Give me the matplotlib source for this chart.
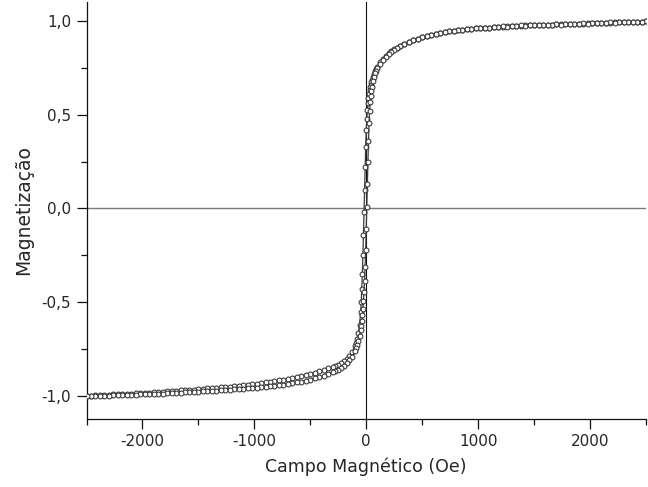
import matplotlib
matplotlib.use("Agg")
import matplotlib.pyplot as plt
from matplotlib.ticker import FixedLocator

# Applied field (Oe)
field = [
    2500, 2460, 2420, 2380, 2340, 2300, 2260, 2220, 2180, 2140, 2100, 2060, 2020, 1980,
    1940, 1900, 1860, 1820, 1780, 1740, 1700, 1660, 1620, 1580, 1540, 1500, 1460, 1420,
    1380, 1340, 1300, 1260, 1220, 1180, 1140, 1100, 1060, 1020, 980, 940, 900, 860,
    820, 780, 740, 700, 660, 620, 580, 540, 500, 460, 420, 380, 340, 300,
    275, 250, 225, 200, 175, 150, 125, 100,
    90, 80, 70, 60,
    50, 45, 40, 35, 30, 25, 20, 15, 10, 5, 0, -5, -10, -15, -20, -25, -30, -35, -40, -45, -50,
    -60, -70, -80, -90,
    -100, -125, -150, -175, -200, -225, -250, -275,
    -300, -340, -380, -420, -460, -500, -540, -580, -620, -660, -700, -740, -780, -820,
    -860, -900, -940, -980, -1020, -1060, -1100, -1140, -1180, -1220, -1260, -1300, -1340, -1380,
    -1420, -1460, -1500, -1540, -1580, -1620, -1660, -1700, -1740, -1780, -1820, -1860, -1900, -1940,
    -1980, -2020, -2060, -2100, -2140, -2180, -2220, -2260, -2300, -2340, -2380, -2420, -2460, -2500,
]

# Normalised magnetisation, descending branch
m_desc = [
    0.997, 0.996, 0.995, 0.994, 0.994, 0.993, 0.992, 0.991, 0.990, 0.990, 0.989, 0.988, 0.987, 0.986,
    0.985, 0.984, 0.984, 0.983, 0.982, 0.981, 0.981, 0.980, 0.979, 0.979, 0.978, 0.977, 0.976, 0.975,
    0.974, 0.972, 0.971, 0.970, 0.969, 0.967, 0.966, 0.964, 0.963, 0.961, 0.959, 0.956, 0.954, 0.951,
    0.949, 0.946, 0.943, 0.939, 0.935, 0.930, 0.925, 0.919, 0.912, 0.905, 0.897, 0.887, 0.876, 0.865,
    0.857, 0.848, 0.838, 0.826, 0.812, 0.796, 0.778, 0.755,
    0.744, 0.732, 0.718, 0.702,
    0.683, 0.672, 0.660, 0.646, 0.630, 0.612, 0.590, 0.562, 0.525, 0.478, 0.420, 0.330, 0.220,
    0.100, -0.020, -0.140, -0.250, -0.350, -0.430, -0.500, -0.550,
    -0.620, -0.663, -0.693, -0.716,
    -0.734, -0.764, -0.785, -0.800, -0.812, -0.823, -0.832, -0.839,
    -0.845, -0.852, -0.860, -0.867, -0.875, -0.882, -0.887, -0.893, -0.898, -0.903, -0.908, -0.912, -0.916, -0.920,
    -0.923, -0.927, -0.930, -0.933, -0.936, -0.939, -0.941, -0.944, -0.947, -0.949, -0.952, -0.953, -0.955, -0.957,
    -0.959, -0.961, -0.963, -0.965, -0.966, -0.968, -0.969, -0.971, -0.973, -0.974, -0.976, -0.977, -0.979, -0.981,
    -0.982, -0.984, -0.985, -0.986, -0.987, -0.988, -0.989, -0.991, -0.992, -0.993, -0.994, -0.995, -0.997, -0.998,
]

# Normalised magnetisation, ascending branch
m_asc = [
    0.998, 0.995, 0.996, 0.993, 0.995, 0.992, 0.993, 0.990, 0.991, 0.989, 0.990, 0.987, 0.988, 0.985,
    0.986, 0.983, 0.985, 0.982, 0.983, 0.980, 0.982, 0.979, 0.980, 0.978, 0.979, 0.976, 0.977, 0.974,
    0.975, 0.971, 0.972, 0.969, 0.970, 0.966, 0.967, 0.963, 0.964, 0.960, 0.960, 0.955, 0.955, 0.950,
    0.950, 0.945, 0.944, 0.938, 0.936, 0.929, 0.926, 0.918, 0.913, 0.904, 0.898, 0.886, 0.875, 0.863,
    0.855, 0.846, 0.836, 0.823, 0.809, 0.792, 0.772, 0.748,
    0.735, 0.720, 0.702, 0.680,
    0.645, 0.625, 0.600, 0.565, 0.520, 0.455, 0.360, 0.250, 0.130, 0.010, -0.110, -0.220, -0.310,
    -0.385, -0.445, -0.495, -0.535, -0.570, -0.600, -0.625, -0.645,
    -0.680, -0.705, -0.727, -0.745,
    -0.760, -0.790, -0.810, -0.826, -0.840, -0.851, -0.859, -0.866,
    -0.872, -0.882, -0.891, -0.898, -0.905, -0.912, -0.917, -0.922, -0.927, -0.931, -0.935, -0.938, -0.941, -0.944,
    -0.947, -0.949, -0.951, -0.954, -0.956, -0.958, -0.960, -0.962, -0.963, -0.965, -0.967, -0.969, -0.970, -0.972,
    -0.973, -0.975, -0.976, -0.977, -0.979, -0.980, -0.981, -0.982, -0.983, -0.985, -0.986, -0.987, -0.988, -0.989,
    -0.990, -0.991, -0.992, -0.993, -0.993, -0.994, -0.995, -0.996, -0.997, -0.998, -0.998, -0.999, -1.000, -1.001,
]

x_ticks = [-2000, -1000, 0, 1000, 2000]
x_tick_labels = ["-2000", "-1000", "0", "1000", "2000"]
x_minor = [-2500, -1500, -500, 500, 1500, 2500]
y_ticks = [-1.0, -0.5, 0.0, 0.5, 1.0]
y_tick_labels = ["-1,0", "-0,5", "0,0", "0,5", "1,0"]
y_minor = [-0.75, -0.25, 0.25, 0.75]

x_label = "Campo Magnético (Oe)"
y_label = "Magnetização"

plt.rcParams["font.family"] = ["DejaVu Sans"]
text_color = "#262626"

fig = plt.figure(figsize=(6.48, 4.87), dpi=100)
ax = fig.add_axes([0.1335, 0.1403, 0.8634, 0.8556])

ax.axhline(0, color="#7a7a7a", lw=1.0, zorder=1)
ax.axvline(0, color="#111111", lw=0.8, zorder=1)

for m in (m_desc, m_asc):
    ax.plot(field, m, color="#3c3c3c", lw=0.9, marker="o", ms=3.5,
            mfc="white", mec="#333333", mew=0.75, zorder=3)

ax.set_xlim(-2500, 2500)
ax.set_ylim(-1.12, 1.1)

for s in ("top", "right"):
    ax.spines[s].set_visible(False)
for s in ("left", "bottom"):
    ax.spines[s].set_linewidth(0.9)
    ax.spines[s].set_color("#111111")

ax.xaxis.set_major_locator(FixedLocator(x_ticks))
ax.set_xticklabels(x_tick_labels)
ax.xaxis.set_minor_locator(FixedLocator(x_minor))
ax.yaxis.set_major_locator(FixedLocator(y_ticks))
ax.set_yticklabels(y_tick_labels)
ax.yaxis.set_minor_locator(FixedLocator(y_minor))

ax.tick_params(which="major", direction="out", length=7, width=0.9,
               color="#111111", labelsize=11, labelcolor=text_color, pad=4)
ax.tick_params(which="minor", direction="out", length=4, width=0.9, color="#111111")

ax.set_xlabel(x_label, fontsize=12.5, color=text_color, labelpad=6)
ax.set_ylabel(y_label, fontsize=13.5, color=text_color, labelpad=6)

fig.savefig("out.png", dpi=100)
